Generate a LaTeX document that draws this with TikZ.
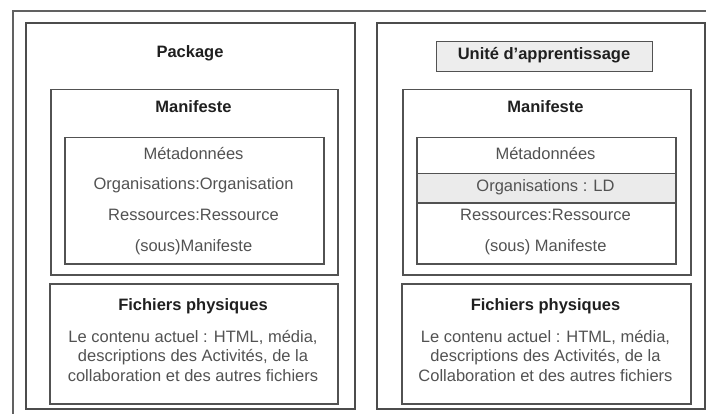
\documentclass[tikz,border=0pt]{standalone}
\usepackage{fontspec}
\setmainfont{Liberation Sans}
\begin{document}
\begin{tikzpicture}[x=1pt,y=-1pt,
  frame/.style={draw=black!62, line width=1.2pt},
  panel/.style={draw=black!70, line width=1.8pt},
  box/.style={draw=black!68, line width=1.5pt, inner sep=0pt},
  ttl/.style={font=\fontsize{16.5}{19.5}\selectfont\bfseries, text=black!88, inner sep=0pt},
  txt/.style={font=\fontsize{16.5}{19.5}\selectfont, text=black!68, inner sep=0pt, align=center},
]
\useasboundingbox (0,0) rectangle (706,414);
% outer frame
\draw[frame] (13,11) rectangle (720,440);
% panels
\draw[panel] (26,23) rectangle (355,409);
\draw[panel] (377,23) rectangle (705,409);

% ---------- left ----------
\node[ttl] (pkg) at (190,53) {Package};
\node[box, minimum width=287pt, minimum height=185pt, anchor=north west] (manL) at (50,89) {};
\node[ttl] (manLt) at (193.5,107) {Manifeste};
\node[box, minimum width=259pt, minimum height=126pt, anchor=north west] (listL) at (64,137) {};
\node[txt] (metaL) at (193.5,154) {Métadonnées};
\node[txt] (orgL) at (193.5,185) {Organisations:Organisation};
\node[txt] (resL) at (193.5,215) {Ressources:Ressource};
\node[txt] (sousL) at (193.5,247) {(sous)Manifeste};
\node[box, minimum width=288pt, minimum height=120pt, anchor=north west] (fichL) at (49,283) {};
\node[ttl] (fichLt) at (193,306) {Fichiers physiques};
\node[txt] (contL) at (193,356) {Le contenu actuel : HTML, média,\\descriptions des Activités, de la\\collaboration et des autres fichiers};

% ---------- right ----------
\node[box, minimum width=216pt, minimum height=30pt, anchor=north west, fill=black!7, line width=1.3pt] (uaBox) at (436,41) {};
\node[ttl] (ua) at (544,55) {Unité d’apprentissage};
\node[box, minimum width=288pt, minimum height=185pt, anchor=north west] (manR) at (402,89) {};
\node[ttl] (manRt) at (545.5,107) {Manifeste};
\node[box, minimum width=259pt, minimum height=29pt, anchor=north west, fill=black!8] (orgRow) at (416,173) {};
\node[box, minimum width=259pt, minimum height=126pt, anchor=north west] (listR) at (416,137) {};
\node[txt] (metaR) at (545.5,154) {Métadonnées};
\node[txt] (orgR) at (545.5,187) {Organisations : LD};
\node[txt] (resR) at (545.5,215) {Ressources:Ressource};
\node[txt] (sousR) at (545.5,247) {(sous) Manifeste};
\node[box, minimum width=289pt, minimum height=120pt, anchor=north west] (fichR) at (401,283) {};
\node[ttl] (fichRt) at (545.5,306) {Fichiers physiques};
\node[txt] (contR) at (545.5,356) {Le contenu actuel : HTML, média,\\descriptions des Activités, de la\\Collaboration et des autres fichiers};
\end{tikzpicture}
\end{document}
